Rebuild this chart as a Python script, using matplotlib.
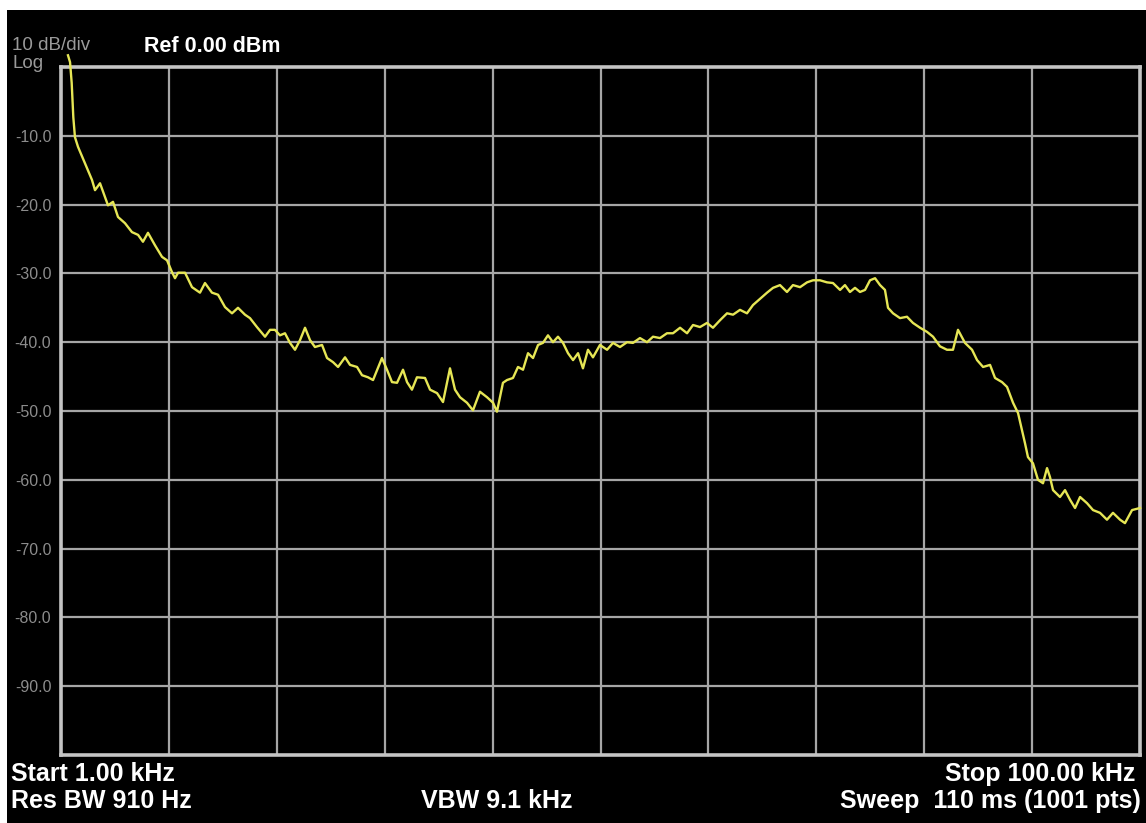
import matplotlib
matplotlib.use("Agg")
import matplotlib.pyplot as plt
from matplotlib.patches import Rectangle

# Sweep settings
start_khz = 1.0
stop_khz = 100.0
ref_dbm = 0.0
db_per_div = 10.0
n_div = 10

# Measured trace (frequency in kHz, level in dBm)
freq_khz = [
    1.64, 1.83, 1.98, 2.13, 2.28, 2.56, 3.20, 3.84, 4.12, 4.58, 5.04, 5.31, 5.77, 6.23,
    6.87, 7.51, 8.07, 8.52, 8.98, 9.62, 10.27, 10.73, 11.18, 11.46, 11.74, 12.38, 13.02,
    13.75, 14.21, 14.85, 15.41, 16.05, 16.69, 17.24, 17.88, 18.34, 18.98, 19.72, 20.18,
    20.63, 21.09, 21.55, 22.01, 22.47, 22.93, 23.39, 23.85, 24.30, 24.95, 25.41, 25.96,
    26.42, 27.06, 27.52, 28.16, 28.62, 29.17, 29.63, 30.45, 30.91, 31.37, 31.83, 32.38,
    32.75, 33.20, 33.66, 34.40, 34.86, 35.50, 36.05, 36.69, 37.15, 37.61, 38.25, 38.80,
    39.44, 40.09, 40.64, 41.00, 41.55, 41.92, 42.47, 42.93, 43.39, 43.85, 44.31, 44.77,
    45.22, 45.68, 46.14, 46.60, 47.06, 47.52, 47.98, 48.44, 48.89, 49.35, 49.81, 50.45,
    51.10, 51.65, 52.29, 52.93, 53.48, 54.12, 54.77, 55.32, 55.96, 56.60, 57.15, 57.80,
    58.44, 58.99, 59.63, 60.27, 60.82, 61.47, 62.11, 62.66, 63.30, 63.94, 64.49, 65.14,
    65.78, 66.33, 66.97, 67.61, 68.16, 68.81, 69.45, 70.00, 70.64, 71.28, 71.83, 72.48,
    72.93, 73.39, 73.85, 74.31, 74.77, 75.23, 75.69, 76.15, 76.60, 76.88, 77.34, 77.98,
    78.62, 79.17, 79.82, 80.46, 81.01, 81.65, 82.29, 82.84, 83.30, 83.94, 84.59, 85.05,
    85.60, 86.24, 86.70, 87.34, 87.80, 88.35, 88.81, 89.17, 89.45, 89.72, 90.18, 90.64,
    91.10, 91.47, 91.74, 92.02, 92.66, 93.12, 93.58, 94.04, 94.50, 95.14, 95.69, 96.33,
    96.97, 97.52, 98.17, 98.62, 99.27, 100.00,
]
level_dbm = [
    1.7, 0.7, -2.3, -7.3, -10.2, -11.6, -14.0, -16.4, -17.9, -16.9, -18.9, -20.1, -19.6, -21.8,
    -22.7, -24.0, -24.4, -25.4, -24.1, -25.9, -27.6, -28.1, -29.8, -30.7, -29.9, -29.9, -32.0,
    -32.8, -31.4, -32.8, -33.1, -34.9, -35.8, -35.0, -36.0, -36.5, -37.8, -39.2, -38.2,
    -38.2, -39.0, -38.7, -40.1, -41.1, -39.7, -37.9, -39.7, -40.7, -40.4, -42.3, -42.9,
    -43.6, -42.2, -43.3, -43.6, -44.8, -45.1, -45.5, -42.3, -44.0, -45.8, -45.9, -44.0,
    -45.8, -46.9, -45.1, -45.2, -46.9, -47.4, -48.7, -43.8, -46.9, -48.0, -48.8, -49.9,
    -47.2, -48.0, -48.8, -50.1, -45.9, -45.5, -45.2, -43.6, -44.0, -41.6, -42.3, -40.4,
    -40.1, -39.0, -40.0, -39.2, -40.1, -41.6, -42.6, -41.6, -43.8, -41.1, -42.2, -40.4,
    -41.1, -40.1, -40.7, -40.0, -40.1, -39.4, -40.0, -39.2, -39.4, -38.7, -38.7, -37.9,
    -38.7, -37.5, -37.8, -37.2, -37.9, -36.8, -35.8, -36.0, -35.3, -35.8, -34.6, -33.7,
    -32.8, -32.1, -31.7, -32.7, -31.7, -32.0, -31.3, -31.0, -31.0, -31.3, -31.4, -32.4,
    -31.7, -32.7, -32.1, -32.7, -32.4, -31.0, -30.7, -31.7, -32.4, -35.0, -35.8, -36.5,
    -36.3, -37.2, -37.9, -38.5, -39.2, -40.6, -41.1, -41.1, -38.2, -40.1, -41.1, -42.6,
    -43.6, -43.3, -45.2, -45.8, -46.5, -48.8, -50.3, -52.8, -54.7, -56.7, -57.6, -60.0,
    -60.5, -58.3, -59.6, -61.5, -62.5, -61.5, -62.9, -64.1, -62.5, -63.4, -64.4, -64.8,
    -65.8, -64.8, -65.8, -66.3, -64.4, -64.1,
]

y_labels = ["-10.0", "-20.0", "-30.0", "-40.0", "-50.0", "-60.0", "-70.0", "-80.0", "-90.0"]

W, H = 1146, 823
fig = plt.figure(figsize=(W / 100, H / 100), dpi=100, facecolor="white")

# black instrument screen behind everything
fig.patches.append(Rectangle((7 / W, 0), 1 - 7 / W, 1 - 10 / H, transform=fig.transFigure,
                             facecolor="black", edgecolor="none", zorder=-5))

ax = fig.add_axes([61 / W, 1 - 755 / H, (1140 - 61) / W, (755 - 67) / H])
ax.set_facecolor("black")

bottom_db = ref_dbm - db_per_div * n_div
ax.set_xlim(start_khz, stop_khz)
ax.set_ylim(bottom_db, ref_dbm)

span = (stop_khz - start_khz) / n_div
xt = [start_khz + span * k for k in range(n_div + 1)]
yt = [ref_dbm - db_per_div * k for k in range(n_div + 1)]
for x in xt[1:-1]:
    ax.axvline(x, color="#a6a6a6", lw=1.6, zorder=1)
for y in yt[1:-1]:
    ax.axhline(y, color="#a6a6a6", lw=1.6, zorder=1)

ax.set_xticks([])
ax.set_yticks(yt[1:-1])
ax.set_yticklabels(y_labels, family="Liberation Sans", fontsize=11.5, color="#8c8c8c")
ax.tick_params(axis="y", length=0, pad=7)
for s in ax.spines.values():
    s.set_color("#c4c4c4")
    s.set_linewidth(2.6)

ax.plot(freq_khz, level_dbm, color="#e6e655", lw=1.7, zorder=3, clip_on=False,
        solid_joinstyle="round")

def label(x, y, s, size, color="white", weight="bold", ha="left"):
    fig.text(x / W, 1 - y / H, s, fontsize=size, color=color, weight=weight, ha=ha,
             va="center", family="Liberation Sans")

label(12, 45, "10 dB/div", 13.5, color="#9a9a9a", weight="normal")
label(12, 64, "Log", 13.5, color="#9a9a9a", weight="normal")
label(144, 46, "Ref 0.00 dBm", 15.5)
label(11, 774, "Start 1.00 kHz", 18)
label(11, 801, "Res BW 910 Hz", 18)
label(497, 801, "VBW 9.1 kHz", 18, ha="center")
label(1135, 774, "Stop 100.00 kHz", 18, ha="right")
label(1141, 801, "Sweep  110 ms (1001 pts)", 18, ha="right")

fig.savefig("out.png", dpi=100, facecolor="white")
